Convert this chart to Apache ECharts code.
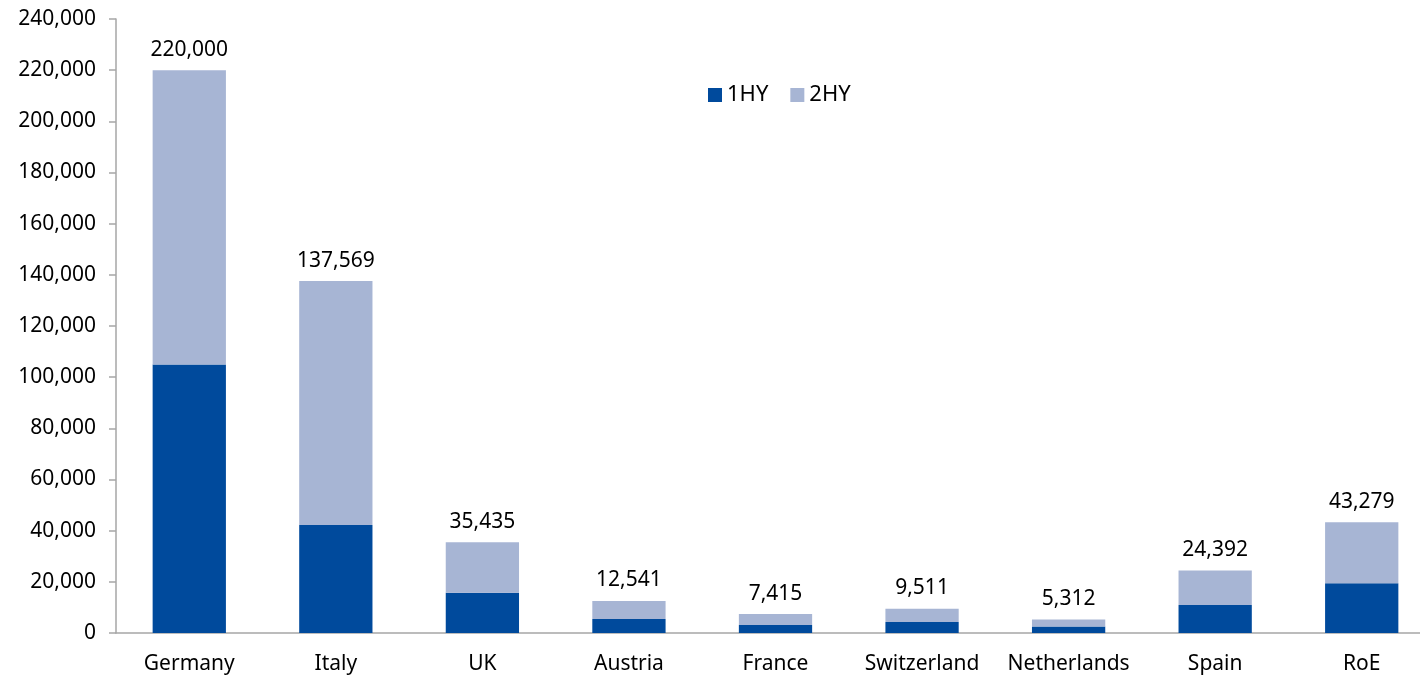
<!DOCTYPE html>
<html>
<head>
<meta charset="utf-8">
<script src="https://cdn.jsdelivr.net/npm/echarts@6/dist/echarts.min.js"></script>
<style>
  html, body { margin: 0; padding: 0; background: #fff; }
  #grafico { width: 1420px; height: 675px; }
</style>
</head>
<body>
<div id="grafico"></div>
<script>
const paises = ["Germany", "Italy", "UK", "Austria", "France", "Switzerland", "Netherlands", "Spain", "RoE"];
const primeiroSemestre = [105000, 42200, 15750, 5470, 3100, 4300, 2500, 10900, 19400];
const segundoSemestre = [115000, 95369, 19685, 7071, 4315, 5211, 2812, 13492, 23879];
const totais = [220000, 137569, 35435, 12541, 7415, 9511, 5312, 24392, 43279];

const fonte = "'Noto Sans', sans-serif";
const formata = (v) => new Intl.NumberFormat("en-US").format(v);

const chartDom = document.getElementById("grafico");
const myChart = echarts.init(chartDom, null, { renderer: "canvas" });

const option = {
  animation: false,
  color: ["#004A9C", "#A7B5D4"],
  textStyle: { fontFamily: fonte, color: "#000" },
  legend: {
    data: ["1HY", "2HY"],
    left: 703,
    top: 79,
    icon: "rect",
    itemWidth: 14,
    itemHeight: 14,
    itemGap: 22,
    textStyle: { fontFamily: fonte, fontSize: 22, color: "#000" }
  },
  grid: {
    left: 116,
    right: -15,
    top: 19,
    bottom: 42,
    containLabel: false,
    outerBoundsMode: "none"
  },
  xAxis: {
    type: "category",
    data: paises,
    axisLine: { lineStyle: { color: "#A6A6A6", width: 1.5 } },
    axisTick: { show: false },
    axisLabel: { fontFamily: fonte, fontSize: 21, color: "#000", margin: 21, interval: 0 }
  },
  yAxis: {
    type: "value",
    min: 0,
    max: 240000,
    interval: 20000,
    splitLine: { show: false },
    axisLine: { show: true, lineStyle: { color: "#A6A6A6", width: 1.5 } },
    axisTick: { show: true, length: 7, lineStyle: { color: "#A6A6A6", width: 1.5 } },
    axisLabel: {
      fontFamily: fonte,
      fontSize: 21,
      color: "#000",
      margin: 20,
      formatter: (v) => formata(v)
    }
  },
  series: [
    {
      name: "1HY",
      type: "bar",
      stack: "total",
      barWidth: "50%",
      data: primeiroSemestre
    },
    {
      name: "2HY",
      type: "bar",
      stack: "total",
      barWidth: "50%",
      data: segundoSemestre,
      label: {
        show: true,
        position: "top",
        distance: 10,
        fontFamily: fonte,
        fontSize: 21,
        color: "#000",
        formatter: (p) => formata(totais[p.dataIndex])
      }
    }
  ]
};

option && myChart.setOption(option);
</script>
</body>
</html>
